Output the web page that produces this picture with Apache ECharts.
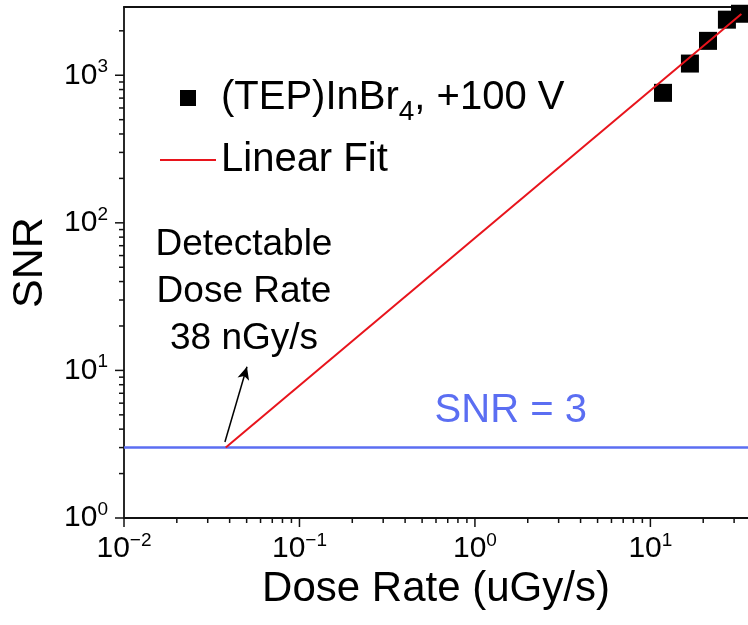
<!DOCTYPE html>
<html>
<head>
<meta charset="utf-8">
<script src="https://cdn.jsdelivr.net/npm/echarts@6/dist/echarts.min.js"></script>
<style>
  html, body { margin: 0; padding: 0; background: #fff; }
  #chart { width: 748px; height: 625px; }
</style>
</head>
<body>
<div id="chart"></div>
<script>
// 测量数据
const doseRate = [11.8, 16.8, 21.3, 27.3, 32.4]
const snr = [760, 1200, 1710, 2380, 2610]
// 线性拟合
const fitX = [0.038, 33]
const fitY = [3, 2600]
// 检测限 SNR = 3
const snrLimit = 3
// 坐标轴范围与刻度
const xRange = [0.01, 36]
const yRange = [1, 2900]
const xTickExps = [-2, -1, 0, 1]
const yTickExps = [0, 1, 2, 3]

const FONT = '"Liberation Sans", Arial, sans-serif'
const BLUE = '#5b6ef2'
const RED = '#e8141c'

// 对数坐标刻度（主刻度 + 2..9 次刻度）
const logTicks = (lo, hi) => {
  const out = []
  for (let e = Math.floor(Math.log10(lo)); e <= Math.ceil(Math.log10(hi)); e++) {
    for (let m = 1; m < 10; m++) {
      const v = parseFloat((m * Math.pow(10, e)).toPrecision(6))
      if (v >= lo * 0.999 && v <= hi * 1.001) out.push({ v, major: m === 1 ? 1 : 0 })
    }
  }
  return out
}

const powLabel = (exps) => (v) => {
  const l = Math.log10(v)
  const e = Math.round(l)
  if (Math.abs(l - e) > 1e-6 || !exps.includes(e)) return ''
  return '{b|10}{s|' + (e < 0 ? '\u2212' + (-e) : e) + '}'
}

const labelRich = {
  b: { fontSize: 30, fontFamily: FONT, color: '#000', lineHeight: 36 },
  s: { fontSize: 19, fontFamily: FONT, color: '#000', lineHeight: 20, verticalAlign: 'top' }
}

const chart = echarts.init(document.getElementById('chart'))

const option = {
  animation: false,
  backgroundColor: '#fff',
  grid: { left: 124, right: 0, top: 7, bottom: 107, outerBoundsMode: 'none' },
  legend: {
    orient: 'vertical',
    left: 155,
    top: 71,
    itemWidth: 56,
    itemHeight: 16,
    itemGap: 14,
    selectedMode: false,
    data: [
      { name: '(TEP)InBr4, +100 V', icon: 'path://M0,0L10,0L10,10L0,10Z' },
      { name: 'Linear Fit', icon: 'path://M0,0L100,0L100,4L0,4Z' }
    ],
    formatter: (name) => name.startsWith('(TEP)')
      ? '{a|(TEP)InBr}{sub|4}{a|, +100 V}'
      : '{a|' + name + '}',
    textStyle: {
      rich: {
        a: { fontSize: 40, fontFamily: FONT, color: '#000', lineHeight: 44, verticalAlign: 'middle' },
        sub: { fontSize: 28, fontFamily: FONT, color: '#000', lineHeight: 28, padding: [22, 0, 0, 0], verticalAlign: 'top' }
      }
    }
  },
  xAxis: [
    {
      type: 'log',
      min: xRange[0],
      max: xRange[1],
      name: 'Dose Rate (uGy/s)',
      nameLocation: 'middle',
      nameGap: 50,
      nameTextStyle: { fontSize: 42, fontFamily: FONT, color: '#000' },
      axisLine: { lineStyle: { color: '#111', width: 1.8 } },
      axisTick: { show: false },
      splitLine: { show: false },
      axisLabel: { margin: 13, formatter: powLabel(xTickExps), rich: labelRich }
    },
    {
      type: 'log',
      position: 'top',
      min: xRange[0],
      max: xRange[1],
      axisLine: { lineStyle: { color: '#111', width: 1.8 } },
      axisTick: { show: false },
      axisLabel: { show: false },
      splitLine: { show: false }
    }
  ],
  yAxis: {
    type: 'log',
    min: yRange[0],
    max: yRange[1],
    name: 'SNR',
    nameLocation: 'middle',
    nameGap: 72,
    nameTextStyle: { fontSize: 43, fontFamily: FONT, color: '#000' },
    axisLine: { lineStyle: { color: '#111', width: 1.8 } },
    axisTick: { show: false },
    splitLine: { show: false },
    axisLabel: { margin: 16, formatter: powLabel(yTickExps), rich: labelRich }
  },
  series: [
    {
      name: 'SNR = 3',
      type: 'line',
      symbol: 'none',
      silent: true,
      data: [[xRange[0], snrLimit], [xRange[1], snrLimit]],
      lineStyle: { color: BLUE, width: 2.5 },
      itemStyle: { color: BLUE },
      markLine: {
        silent: true,
        symbol: ['none', 'arrow'],
        symbolSize: [9, 13],
        label: { show: false },
        lineStyle: { color: '#000', width: 1.5, type: 'solid' },
        itemStyle: { color: '#000' },
        data: [[{ coord: [0.0376, 3.27] }, { coord: [0.0502, 10.6] }]]
      }
    },
    {
      name: 'Linear Fit',
      type: 'line',
      symbol: 'none',
      data: fitX.map((x, i) => [x, fitY[i]]),
      lineStyle: { color: RED, width: 2 },
      itemStyle: { color: RED }
    },
    {
      name: '(TEP)InBr4, +100 V',
      type: 'scatter',
      symbol: 'rect',
      symbolSize: 18,
      data: doseRate.map((x, i) => [x, snr[i]]),
      itemStyle: { color: '#000', opacity: 1 }
    },
    {
      // x 轴刻度
      type: 'custom',
      silent: true,
      data: logTicks(xRange[0], xRange[1]).map(t => [t.v, yRange[0], t.major]),
      encode: { x: 0, y: 1 },
      renderItem: (params, api) => {
        const p = api.coord([api.value(0), api.value(1)])
        const len = api.value(2) ? 9 : 5
        return {
          type: 'line',
          shape: { x1: p[0], y1: p[1], x2: p[0], y2: p[1] + len },
          style: { stroke: '#111', lineWidth: 1.5 }
        }
      }
    },
    {
      // y 轴刻度
      type: 'custom',
      silent: true,
      data: logTicks(yRange[0], yRange[1]).map(t => [xRange[0], t.v, t.major]),
      encode: { x: 0, y: 1 },
      renderItem: (params, api) => {
        const p = api.coord([api.value(0), api.value(1)])
        const len = api.value(2) ? 9 : 5
        return {
          type: 'line',
          shape: { x1: p[0], y1: p[1], x2: p[0] - len, y2: p[1] },
          style: { stroke: '#111', lineWidth: 1.5 }
        }
      }
    }
  ]
}

chart.setOption(option)

// 注释文字，位置由数据坐标换算
const px = (x, y) => chart.convertToPixel({ xAxisIndex: 0, yAxisIndex: 0 }, [x, y])
const notePos = px(0.0483, 34.1)
const limitPos = px(1.6, 5.31)

chart.setOption({
  graphic: [
    {
      type: 'text',
      x: notePos[0],
      y: notePos[1],
      silent: true,
      style: {
        text: 'Detectable\nDose Rate\n38 nGy/s',
        fontSize: 37,
        fontFamily: FONT,
        fill: '#000',
        lineHeight: 47,
        align: 'center',
        verticalAlign: 'middle'
      }
    },
    {
      type: 'text',
      x: limitPos[0],
      y: limitPos[1],
      silent: true,
      style: {
        text: 'SNR = 3',
        fontSize: 40,
        fontFamily: FONT,
        fill: BLUE,
        align: 'center',
        verticalAlign: 'middle'
      }
    }
  ]
})
</script>
</body>
</html>
